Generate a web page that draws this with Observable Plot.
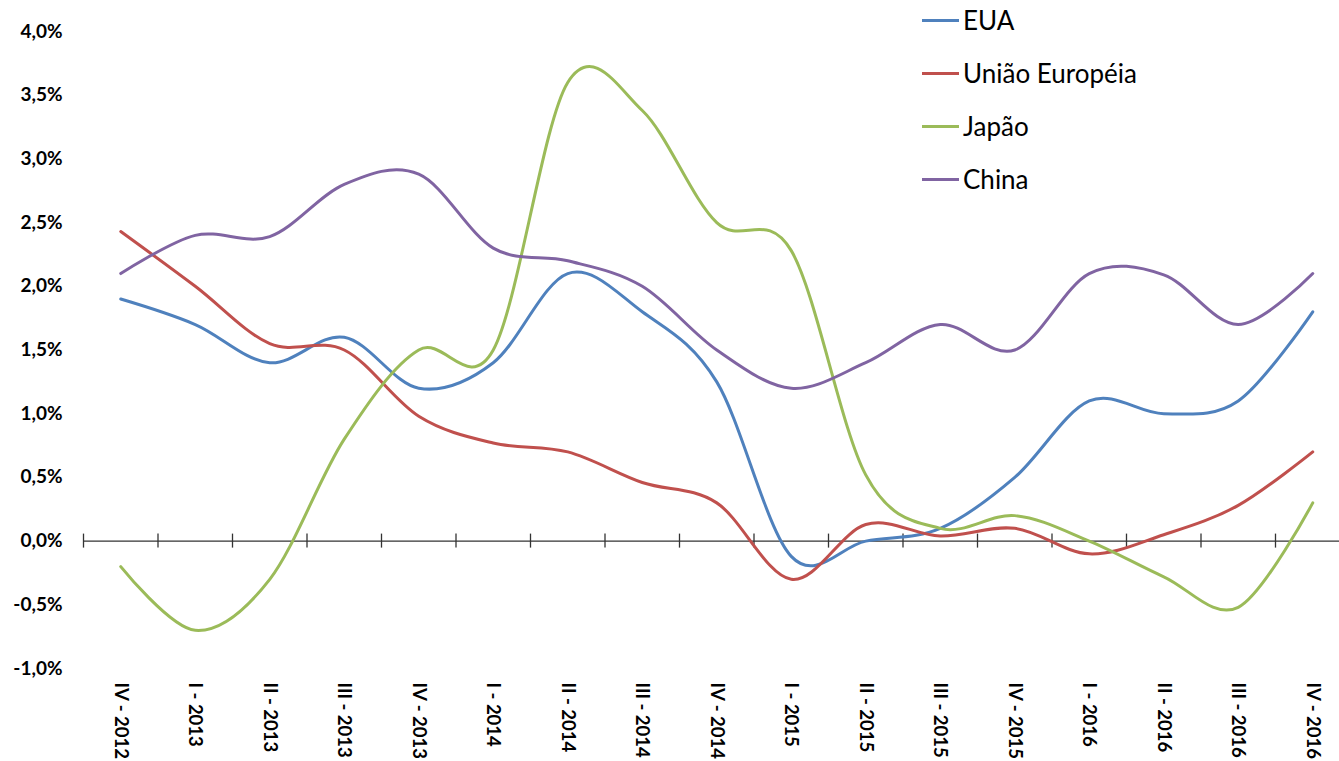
<!DOCTYPE html>
<html><head><meta charset="utf-8">
<script src="https://cdn.jsdelivr.net/npm/d3@7"></script>
<script src="https://cdn.jsdelivr.net/npm/@observablehq/plot@0.6"></script>
<style>
body{margin:0;background:#fff;}
#wrap{position:relative;width:1339px;height:761px;overflow:hidden;background:#fff;}
.legend{position:absolute;left:922px;top:0;font-family:Lato, "Open Sans", sans-serif;font-size:26px;color:#000;}
.item{position:absolute;left:0;display:flex;align-items:center;white-space:nowrap;height:40px;}
.sw{width:37px;height:3px;margin-right:4px;}
</style></head>
<body><div id="wrap"></div>
<script>
const quarters = ["IV - 2012","I - 2013","II - 2013","III - 2013","IV - 2013","I - 2014","II - 2014","III - 2014","IV - 2014","I - 2015","II - 2015","III - 2015","IV - 2015","I - 2016","II - 2016","III - 2016","IV - 2016"];
const seriesNames = ["EUA","União Européia","Japão","China"];
const seriesColors = ["#4F81BD","#C0504D","#9BBB59","#8064A2"];
const eua   = [1.9, 1.7, 1.4, 1.6, 1.2, 1.4, 2.1, 1.8, 1.25, -0.12, 0.0, 0.1, 0.5, 1.1, 1.0, 1.1, 1.8];
const ue    = [2.43, 2.0, 1.55, 1.5, 0.98, 0.77, 0.7, 0.46, 0.3, -0.3, 0.13, 0.04, 0.1, -0.1, 0.05, 0.28, 0.7];
const japao = [-0.2, -0.7, -0.3, 0.8, 1.5, 1.5, 3.6, 3.38, 2.5, 2.28, 0.52, 0.1, 0.2, 0.0, -0.28, -0.52, 0.3];
const china = [2.1, 2.4, 2.39, 2.8, 2.88, 2.3, 2.2, 2.0, 1.5, 1.2, 1.4, 1.7, 1.5, 2.1, 2.09, 1.7, 2.1];
const yTicks = [-1, -0.5, 0, 0.5, 1, 1.5, 2, 2.5, 3, 3.5, 4];

const seriesValues = [eua, ue, japao, china];
const data = [];
seriesNames.forEach((name, s) => seriesValues[s].forEach((v, i) => data.push({serie: name, i, v})));
const boundaries = d3.range(quarters.length + 1).map(i => i - 0.5);
const fmt = d => d.toFixed(1).replace(".", ",") + "%";

const chart = Plot.plot({
  width: 1339, height: 761,
  marginLeft: 83, marginRight: 0, marginTop: 31, marginBottom: 93,
  style: {fontFamily: "Lato, 'Open Sans', sans-serif", fontSize: "19px", fontWeight: "bold", color: "#000", background: "#fff"},
  x: {type: "linear", domain: [-0.5, quarters.length - 0.5], range: [83, 83 + 74.5 * quarters.length]},
  y: {domain: [-1, 4]},
  color: {domain: seriesNames, range: seriesColors},
  marks: [
    Plot.ruleY([0], {stroke: "#333", strokeWidth: 1.3}),
    Plot.ruleX(boundaries, {y1: -0.055, y2: 0.055, stroke: "#333", strokeWidth: 1.3}),
    Plot.axisY({ticks: yTicks, tickFormat: fmt, tickSize: 0, tickPadding: 21, label: null, fontSize: 19, fontWeight: "bold"}),
    Plot.axisX({ticks: d3.range(quarters.length), tickFormat: i => quarters[i], tickSize: 0, tickPadding: 14, tickRotate: 90, label: null, fontSize: 18.5, fontWeight: "bold"}),
    Plot.line(data, {x: "i", y: "v", z: "serie", stroke: "serie", curve: "cardinal", strokeWidth: 3})
  ]
});
const wrap = document.getElementById("wrap");
wrap.appendChild(chart);
const legend = document.createElement("div");
legend.className = "legend";
seriesNames.forEach((name, k) => {
  const it = document.createElement("div");
  it.className = "item";
  it.style.top = (53 * k) + "px";
  const sw = document.createElement("span");
  sw.className = "sw"; sw.style.background = seriesColors[k];
  const tx = document.createElement("span");
  tx.textContent = name;
  it.appendChild(sw); it.appendChild(tx);
  legend.appendChild(it);
});
wrap.appendChild(legend);
</script>
</body></html>
